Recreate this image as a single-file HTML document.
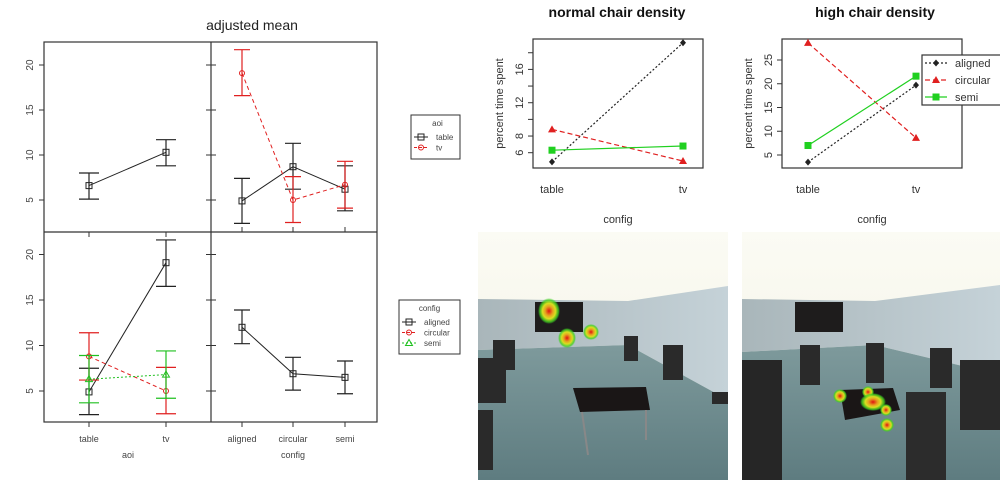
<!DOCTYPE html>
<html><head><meta charset="utf-8"><style>
body{margin:0;background:#fff;width:1000px;height:480px;overflow:hidden}
svg{display:block;font-family:"Liberation Sans",sans-serif}
</style></head><body>
<svg id="s" width="1000" height="480" viewBox="0 0 1000 480">
<defs>
<linearGradient id="ceil" x1="0" y1="0" x2="0" y2="1"><stop offset="0" stop-color="#fbfbf4"/><stop offset="1" stop-color="#f2f1e2"/></linearGradient>
<linearGradient id="wall" x1="0" y1="0" x2="1" y2="0"><stop offset="0" stop-color="#a9b6ba"/><stop offset="1" stop-color="#c5d2d8"/></linearGradient>
<linearGradient id="floor" x1="0" y1="0" x2="0" y2="1"><stop offset="0" stop-color="#7e9a9c"/><stop offset="1" stop-color="#5e7c80"/></linearGradient>
<radialGradient id="heat"><stop offset="0" stop-color="#e01010"/><stop offset="0.35" stop-color="#e6a020"/><stop offset="0.6" stop-color="#d8e020"/><stop offset="0.85" stop-color="#40d020" stop-opacity="0.8"/><stop offset="1" stop-color="#40d020" stop-opacity="0"/></radialGradient>
</defs>
<g id="photos">
 <g>
  <rect x="478" y="232" width="250" height="248" fill="url(#ceil)"/>
  <polygon points="478,299 628,301 728,286 728,400 628,345 478,350" fill="url(#wall)"/>
  <polygon points="478,350 628,345 728,400 728,480 478,480" fill="url(#floor)"/>
  <rect x="535" y="302" width="48" height="30" fill="#1e1c1c"/>
  <polygon points="573,388 646,387 650,410 580,412" fill="#1a1616"/>
  <line x1="582" y1="412" x2="588" y2="455" stroke="#888" stroke-width="2"/><line x1="646" y1="410" x2="646" y2="440" stroke="#888" stroke-width="2"/>
  <rect x="493" y="340" width="22" height="30" fill="#2a2a2a"/><rect x="478" y="358" width="28" height="45" fill="#2a2a2a"/>
  <rect x="624" y="336" width="14" height="25" fill="#2a2a2a"/><rect x="663" y="345" width="20" height="35" fill="#2a2a2a"/>
  <rect x="478" y="410" width="15" height="60" fill="#2a2a2a"/><rect x="712" y="392" width="16" height="12" fill="#2a2a2a"/>
  <ellipse cx="549" cy="311" rx="11" ry="13" fill="url(#heat)"/>
  <ellipse cx="567" cy="338" rx="9" ry="10" fill="url(#heat)"/>
  <circle cx="591" cy="332" r="8" fill="url(#heat)"/>
 </g>
 <g>
  <rect x="742" y="232" width="258" height="248" fill="url(#ceil)"/>
  <polygon points="742,299 875,301 1000,285 1000,375 875,345 742,352" fill="url(#wall)"/>
  <polygon points="742,352 875,345 1000,375 1000,480 742,480" fill="url(#floor)"/>
  <rect x="795" y="302" width="48" height="30" fill="#1e1c1c"/>
  <polygon points="840,390 893,388 900,410 845,420" fill="#1a1616"/>
  <rect x="800" y="345" width="20" height="40" fill="#2a2a2a"/><rect x="866" y="343" width="18" height="40" fill="#2a2a2a"/>
  <rect x="930" y="348" width="22" height="40" fill="#2a2a2a"/><rect x="742" y="360" width="40" height="120" fill="#262626"/>
  <rect x="906" y="392" width="40" height="88" fill="#2c2c2c"/><rect x="960" y="360" width="40" height="70" fill="#2a2a2a"/>
  <circle cx="840" cy="396" r="7" fill="url(#heat)"/>
  <circle cx="868" cy="392" r="6" fill="url(#heat)"/>
  <ellipse cx="873" cy="402" rx="13" ry="9" fill="url(#heat)"/>
  <circle cx="886" cy="410" r="6" fill="url(#heat)"/>
  <circle cx="887" cy="425" r="7" fill="url(#heat)"/>
 </g>
</g>
</svg>
<script>
// ---- left: adjusted mean ----
const aoiCats = ['table','tv'];
const cfgCats = ['aligned','circular','semi'];
const tlMean = [6.6, 10.3];
const tlLo = [5.1, 8.8];
const tlHi = [8.0, 11.7];
const trTableMean = [4.9, 8.7, 6.2];
const trTableLo = [2.4, 6.2, 3.8];
const trTableHi = [7.4, 11.3, 8.8];
const trTvMean = [19.1, 5.0, 6.7];
const trTvLo = [16.6, 2.5, 4.1];
const trTvHi = [21.7, 7.6, 9.3];
const blAlignedMean = [4.9, 19.1];
const blAlignedLo = [2.4, 16.5];
const blAlignedHi = [7.5, 21.6];
const blCircularMean = [8.8, 5.0];
const blCircularLo = [6.2, 2.5];
const blCircularHi = [11.4, 7.6];
const blSemiMean = [6.3, 6.8];
const blSemiLo = [3.7, 4.2];
const blSemiHi = [8.9, 9.4];
const brMean = [12.0, 6.9, 6.5];
const brLo = [10.2, 5.1, 4.7];
const brHi = [13.9, 8.7, 8.3];
const leftTicks = [5, 10, 15, 20];
// ---- right top ----
const rCats = ['table','tv'];
const nAligned = [4.9, 19.2];
const nCircular = [8.8, 5.0];
const nSemi = [6.3, 6.8];
const nTicks = [6, 8, 10, 12, 14, 16, 18];
const nTickLabels = ['6','8','','12','','16',''];
const hAligned = [3.5, 19.7];
const hCircular = [28.6, 8.6];
const hSemi = [7.0, 21.6];
const hTicks = [5, 10, 15, 20, 25];

const S = document.getElementById('s');
const NS = 'http://www.w3.org/2000/svg';
function mk(tag, attrs, parent){const e=document.createElementNS(NS,tag);for(const k in attrs)e.setAttribute(k,attrs[k]);(parent||S).appendChild(e);return e;}
function txt(x,y,t,attrs){const e=mk('text',Object.assign({x:x,y:y,'text-anchor':'middle'},attrs||{}));e.textContent=t;return e;}

const yTop = v => 200 - (v-5)*9.0;
const yBot = v => 391 - (v-5)*9.1;
const xAoi = i => 89 + i*77;
const xCfg = i => 242 + [0,51,103][i];

let t = txt(252,30,'adjusted mean',{'font-size':14,fill:'#222'});



// frames
let fr = mk('rect',{x:44,y:42,width:333,height:380,fill:'none',stroke:'#333','stroke-width':1.2});


let l1 = mk('line',{x1:211,y1:42,x2:211,y2:422,stroke:'#333','stroke-width':1.2});


let l2 = mk('line',{x1:44,y1:232,x2:377,y2:232,stroke:'#333','stroke-width':1.2});



// y ticks
leftTicks.forEach(v=>{
  [[yTop(v)],[yBot(v)]].forEach(([y])=>{
    mk('line',{x1:39,y1:y,x2:44,y2:y,stroke:'#333'});
    mk('line',{x1:206,y1:y,x2:216,y2:y,stroke:'#333'});
    const e = txt(33,y,String(v),{'font-size':10,fill:'#444',transform:`rotate(-90 33 ${y})`});
    
    
  });
});
// x ticks
aoiCats.forEach((c,i)=>{
  mk('line',{x1:xAoi(i),y1:422,x2:xAoi(i),y2:427,stroke:'#333'});
  mk('line',{x1:xAoi(i),y1:232,x2:xAoi(i),y2:237,stroke:'#333'});
  const e = txt(xAoi(i),442,c,{'font-size':9,fill:'#444'});
  
  
});
cfgCats.forEach((c,i)=>{
  mk('line',{x1:xCfg(i),y1:422,x2:xCfg(i),y2:427,stroke:'#333'});
  mk('line',{x1:xCfg(i),y1:232,x2:xCfg(i),y2:227,stroke:'#333'});
  const e = txt(xCfg(i),442,c,{'font-size':9,fill:'#444'});
  
  
});
t = txt(128,458,'aoi',{'font-size':9,fill:'#444'});


t = txt(293,458,'config',{'font-size':9,fill:'#444'});



function marker(type,x,y,color){
  if(type==='sq') return mk('rect',{x:x-3,y:y-3,width:6,height:6,fill:'none',stroke:color,'stroke-width':1});
  if(type==='ci') return mk('circle',{cx:x,cy:y,r:2.5,fill:'none',stroke:color,'stroke-width':1});
  return mk('polygon',{points:`${x},${y-3.5} ${x-3.5},${y+2.5} ${x+3.5},${y+2.5}`,fill:'none',stroke:color,'stroke-width':1});
}
function series(name,xs,yf,mean,lo,hi,color,dash,mtype,capw){
  const pts = mean.map((v,i)=>xs(i)+','+yf(v)).join(' ');
  const pl = mk('polyline',{points:pts,fill:'none',stroke:color,'stroke-width':1,'stroke-dasharray':dash});
  
  
  mean.forEach((v,i)=>{
    const x=xs(i);
    const g = mk('path',{d:`M${x} ${yf(lo[i])}V${yf(hi[i])}M${x-capw} ${yf(lo[i])}H${x+capw}M${x-capw} ${yf(hi[i])}H${x+capw}`,stroke:color,'stroke-width':1.2,fill:'none'});
    
    
    const m = marker(mtype,x,yf(v),color);
    
    
  });
}
series('aoi-main',xAoi,yTop,tlMean,tlLo,tlHi,'#222','', 'sq',10);
series('table-by-config',xCfg,yTop,trTableMean,trTableLo,trTableHi,'#222','', 'sq',8);
series('tv-by-config',xCfg,yTop,trTvMean,trTvLo,trTvHi,'#e02020','4,3','ci',8);
series('aligned-by-aoi',xAoi,yBot,blAlignedMean,blAlignedLo,blAlignedHi,'#222','', 'sq',10);
series('circular-by-aoi',xAoi,yBot,blCircularMean,blCircularLo,blCircularHi,'#e02020','4,3','ci',10);
series('semi-by-aoi',xAoi,yBot,blSemiMean,blSemiLo,blSemiHi,'#20c020','2,2','tr',10);
series('config-main',xCfg,yBot,brMean,brLo,brHi,'#222','', 'sq',8);

function legendBox(name,x,y,w,h,title,items){
  const r = mk('rect',{x:x,y:y,width:w,height:h,fill:'#fff',stroke:'#333','stroke-width':1});
  
  
  const tt = txt(x+w/2-(name==='aoi-legend'?-2:0),y+11,title,{'font-size':8,fill:'#444'});
  
  
  items.forEach((it,i)=>{
    const yy=y+22+i*10.5;
    mk('line',{x1:x+3,y1:yy,x2:x+17,y2:yy,stroke:it[1],'stroke-dasharray':it[2]});
    marker(it[3],x+10,yy,it[1]);
    const e = mk('text',{x:x+25,y:yy+3,'font-size':8,fill:'#444'});
    e.textContent=it[0];
    
    
  });
}
legendBox('aoi-legend',411,115,49,44,'aoi',[['table','#222','','sq'],['tv','#e02020','3,2','ci']]);
legendBox('config-legend',399,300,61,54,'config',[['aligned','#222','','sq'],['circular','#e02020','3,2','ci'],['semi','#20c020','2,2','tr']]);

// ---- right top charts ----
function topChart(name,title,tx,box,xsArr,yf,ticks,tlabels,data,legend){
  const [x0,y0,x1,y1]=box;
  const tt = txt(tx,17,title,{'font-size':14,'font-weight':'bold',fill:'#111'});
  
  
  const r = mk('rect',{x:x0,y:y0,width:x1-x0,height:y1-y0,fill:'none',stroke:'#333','stroke-width':1.2});
  
  
  ticks.forEach((v,i)=>{
    const y=yf(v);
    mk('line',{x1:x0-5,y1:y,x2:x0,y2:y,stroke:'#333'});
    if(tlabels[i]){
      const e = txt(x0-13,y,tlabels[i],{'font-size':11,fill:'#333',transform:`rotate(-90 ${x0-13} ${y})`,'dominant-baseline':'middle'});
      
      
    }
  });
  rCats.forEach((c,i)=>{
    const e = txt(xsArr[i],193,c,{'font-size':11,fill:'#333'});
    
    
  });
  const xt = txt((x0+x1)/2 - (legend?0:0), 223,'config',{'font-size':11,fill:'#333'});
  
  
  const yl = x0-30, yc=(y0+y1)/2;
  const yt = txt(yl,yc,'percent time spent',{'font-size':11,fill:'#333',transform:`rotate(-90 ${yl} ${yc})`});
  
  
  data.forEach(d=>{
    const [sname,vals,color,dash,mt]=d;
    const pl = mk('polyline',{points:vals.map((v,i)=>xsArr[i]+','+yf(v)).join(' '),fill:'none',stroke:color,'stroke-width':1.2,'stroke-dasharray':dash});
    
    
    vals.forEach((v,i)=>{
      const x=xsArr[i],y=yf(v);
      let m;
      if(mt==='d') m=mk('polygon',{points:`${x},${y-3.5} ${x+3},${y} ${x},${y+3.5} ${x-3},${y}`,fill:color});
      else if(mt==='t') m=mk('polygon',{points:`${x},${y-4} ${x-4},${y+3} ${x+4},${y+3}`,fill:color});
      else m=mk('rect',{x:x-3.5,y:y-3.5,width:7,height:7,fill:color});
      
      
    });
  });
  if(legend){
    const lx=922, ly=55;
    const lr = mk('rect',{x:lx,y:ly,width:90,height:50,fill:'#fff',stroke:'#333','stroke-width':1.2});
    
    
    data.forEach((d,i)=>{
      const yy=ly+8+i*17;
      mk('line',{x1:lx+3,y1:yy,x2:lx+25,y2:yy,stroke:d[2],'stroke-width':1.2,'stroke-dasharray':d[3]});
      const x=lx+14;
      if(d[4]==='d') mk('polygon',{points:`${x},${yy-3.5} ${x+3},${yy} ${x},${yy+3.5} ${x-3},${yy}`,fill:d[2]});
      else if(d[4]==='t') mk('polygon',{points:`${x},${yy-4} ${x-4},${yy+3} ${x+4},${yy+3}`,fill:d[2]});
      else mk('rect',{x:x-3.5,y:yy-3.5,width:7,height:7,fill:d[2]});
      const e = mk('text',{x:lx+33,y:yy+4,'font-size':11,fill:'#333'});
      e.textContent=d[0];
      
      
    });
  }
}
const yN = v => 152.7 - (v-6)*8.33;
const yH = v => 155 - (v-5)*4.75;
topChart('normal-density','normal chair density',617,[533,39,703,168],[552,683],yN,nTicks,nTickLabels,
  [['aligned',nAligned,'#222','2,2','d'],['circular',nCircular,'#e02020','5,3','t'],['semi',nSemi,'#20d020','','s']],false);
topChart('high-density','high chair density',875,[782,39,962,168],[808,916],yH,hTicks,hTicks.map(String),
  [['aligned',hAligned,'#222','2,2','d'],['circular',hCircular,'#e02020','5,3','t'],['semi',hSemi,'#20d020','','s']],true);
</script>
</body></html>
